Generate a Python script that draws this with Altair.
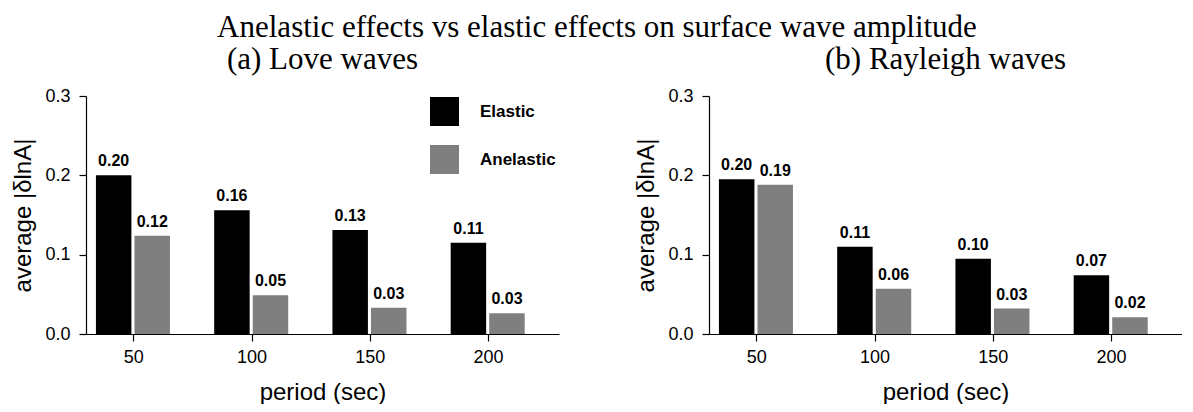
import altair as alt
import pandas as pd

periods = [50, 100, 150, 200]
series = ["Elastic", "Anelastic"]
colors = ["#000000", "#7f7f7f"]
y_ticks = [0.0, 0.1, 0.2, 0.3]

love_elastic = [0.200, 0.156, 0.131, 0.115]
love_anelastic = [0.124, 0.049, 0.033, 0.026]
love_elastic_labels = ["0.20", "0.16", "0.13", "0.11"]
love_anelastic_labels = ["0.12", "0.05", "0.03", "0.03"]

ray_elastic = [0.195, 0.110, 0.095, 0.074]
ray_anelastic = [0.188, 0.057, 0.032, 0.021]
ray_elastic_labels = ["0.20", "0.11", "0.10", "0.07"]
ray_anelastic_labels = ["0.19", "0.06", "0.03", "0.02"]

FONT = "Liberation Sans"
SERIF = "Liberation Serif"
W = 473
H = 238


def make_df(el, an, el_lab, an_lab):
    rows = []
    for p, v, l in zip(periods, el, el_lab):
        rows.append({"period": p, "series": "Elastic", "value": v, "label": l})
    for p, v, l in zip(periods, an, an_lab):
        rows.append({"period": p, "series": "Anelastic", "value": v, "label": l})
    return pd.DataFrame(rows)


def make_panel(df, title, legend_x):
    base = alt.Chart(df).transform_calculate(
        x0="datum.series == 'Elastic' ? datum.period - 15.8 : datum.period + 0.5",
        x1="datum.series == 'Elastic' ? datum.period - 0.8 : datum.period + 15.5",
    ).transform_calculate(
        xm="(datum.x0 + datum.x1) / 2"
    )
    xscale = alt.Scale(domain=[30, 230], nice=False, zero=False)
    yscale = alt.Scale(domain=[0, 0.3], nice=False)
    bars = base.mark_bar().encode(
        x=alt.X("x0:Q", scale=xscale,
                axis=alt.Axis(values=periods, title="period (sec)", format="d",
                              labelPadding=7, titlePadding=14)),
        x2="x1:Q",
        y=alt.Y("value:Q", scale=yscale,
                axis=alt.Axis(values=y_ticks, format=".1f", title="average |δlnA|",
                              labelPadding=9, titlePadding=9)),
        y2=alt.datum(0),
        color=alt.Color("series:N",
                        scale=alt.Scale(domain=series, range=colors),
                        sort=series,
                        legend=alt.Legend(orient="none", legendX=legend_x, legendY=1,
                                          title=None, symbolType="square",
                                          symbolSize=841, symbolStrokeWidth=0,
                                          labelFont=FONT, labelFontSize=17,
                                          labelFontWeight="bold", labelColor="black",
                                          labelOffset=21, rowPadding=19, padding=0)),
    )
    labels = base.mark_text(dy=-9, baseline="alphabetic", font=FONT, fontSize=16,
                            fontWeight="bold", color="black").encode(
        x=alt.X("xm:Q", scale=xscale),
        y=alt.Y("value:Q", scale=yscale),
        text="label:N",
    )
    return alt.layer(bars, labels).properties(
        width=W, height=H,
        title=alt.TitleParams(title, font=SERIF, fontSize=31, fontWeight="normal",
                              anchor="middle", color="black", offset=11),
    )


left = make_panel(make_df(love_elastic, love_anelastic, love_elastic_labels,
                          love_anelastic_labels), "(a) Love waves", 344)
right = make_panel(make_df(ray_elastic, ray_anelastic, ray_elastic_labels,
                           ray_anelastic_labels), "(b) Rayleigh waves", 345)

chart = alt.hconcat(left, right, spacing=75).properties(
    title=alt.TitleParams("Anelastic effects vs elastic effects on surface wave amplitude",
                          font=SERIF, fontSize=31, fontWeight="normal",
                          anchor="middle", color="black", offset=0),
    padding={"left": 3, "top": 4, "right": 0, "bottom": 0},
).configure_view(stroke=None).configure_axis(
    grid=False, domainColor="black", domainWidth=1.2, tickColor="black",
    tickWidth=1.2, tickSize=7, labelFont=FONT, labelFontSize=18, labelColor="black",
    titleFont=FONT, titleFontSize=24, titleFontWeight="normal", titleColor="black",
)

chart.save("out.html", embed_options={"renderer": "svg", "actions": False})
